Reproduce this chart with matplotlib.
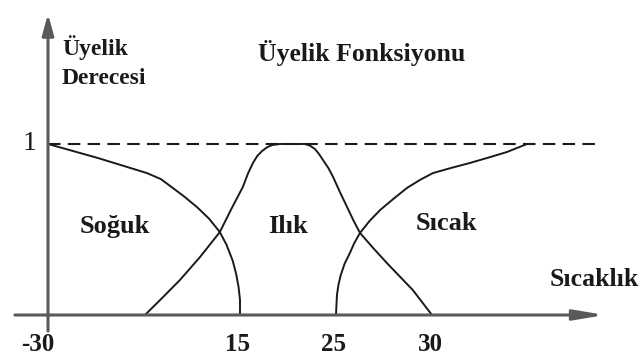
import numpy as np
import matplotlib
matplotlib.use("Agg")
import matplotlib.pyplot as plt

# membership curves, x in diagram units (tick -30 -> 0, 15 -> 4, 25 -> 6, 30 -> 8)
soguk_x = [0.0, 1.04, 2.06, 2.35, 2.60, 2.85, 3.10, 3.35, 3.58, 3.72, 3.85, 3.92, 3.97, 4.0, 4.0]
soguk_y = [1.0, 0.918, 0.830, 0.795, 0.743, 0.690, 0.632, 0.565, 0.485, 0.410, 0.316, 0.240, 0.164, 0.088, 0.0]

ilik_x = [2.02, 2.38, 2.75, 3.17, 3.58, 3.82, 4.06, 4.17, 4.27, 4.36, 4.46, 4.56, 4.67, 4.83,
          5.35, 5.46, 5.56, 5.65, 5.73, 5.84, 5.94, 6.08, 6.23, 6.36, 6.50, 6.78, 7.06, 7.33, 7.60, 8.0]
ilik_y = [0.0, 0.100, 0.205, 0.340, 0.485, 0.620, 0.749, 0.830, 0.889, 0.930, 0.959, 0.980, 0.994, 1.0,
          1.0, 0.990, 0.971, 0.940, 0.906, 0.860, 0.807, 0.720, 0.632, 0.555, 0.480, 0.390, 0.304, 0.225, 0.146, 0.0]

sicak_x = [6.0, 6.01, 6.02, 6.05, 6.10, 6.18, 6.29, 6.38, 6.50, 6.70, 6.92, 7.20, 7.48, 7.75, 8.02, 8.40, 8.79, 9.17, 9.56, 9.98]
sicak_y = [0.0, 0.060, 0.117, 0.175, 0.234, 0.300, 0.363, 0.420, 0.480, 0.550, 0.614, 0.680, 0.743, 0.790, 0.830, 0.860, 0.889, 0.920, 0.953, 1.0]

tick_pos = [0, 4, 6, 8]
tick_labels = ['-30', '15', '25', '30']

fig = plt.figure(figsize=(6.44, 3.61), dpi=100)
ax = fig.add_axes([0, 0, 1, 1])
ax.set_xlim(-1.0, 12.417)
ax.set_ylim(-0.269, 1.842)
ax.axis('off')

axis_col = '#5a5a5a'
ink = '#1a1a1a'
serif = 'Liberation Serif'

# axes with arrows
ax.annotate('', xy=(0, 1.76), xytext=(0, -0.094),
            arrowprops=dict(arrowstyle='-|>,head_length=0.9,head_width=0.25',
                            lw=2.2, color=axis_col, shrinkA=0, shrinkB=0,
                            mutation_scale=14))
ax.annotate('', xy=(11.6, 0), xytext=(-0.69, 0),
            arrowprops=dict(arrowstyle='-|>,head_length=1.3,head_width=0.22',
                            lw=2.2, color=axis_col, shrinkA=0, shrinkB=0,
                            mutation_scale=14))

# membership = 1 guide
ax.plot([0, 11.5], [1, 1], color=ink, lw=1.5, dashes=(6, 3.5))

for xs, ys in [(soguk_x, soguk_y), (ilik_x, ilik_y), (sicak_x, sicak_y)]:
    ax.plot(xs, ys, color=ink, lw=1.4, solid_joinstyle='round', solid_capstyle='round')

bold = dict(family=serif, fontweight='bold', color=ink)
ax.text(0.29, 1.52, 'Üyelik', fontsize=17, va='baseline', **bold)
ax.text(0.29, 1.35, 'Derecesi', fontsize=17, va='baseline', **bold)
ax.text(4.375, 1.485, 'Üyelik Fonksiyonu', fontsize=18.5, va='baseline', **bold)
ax.text(0.667, 0.48, 'Soğuk', fontsize=19, va='baseline', **bold)
ax.text(4.99, 0.48, 'Ilık', fontsize=19, ha='center', va='baseline', **bold)
ax.text(7.65, 0.497, 'Sıcak', fontsize=19, va='baseline', **bold)
ax.text(10.46, 0.17, 'Sıcaklık', fontsize=18.5, va='baseline', **bold)

ax.text(-0.375, 1.0, '1', family=serif, fontsize=20, color=ink, ha='center', va='center')

nudge = [-0.21, -0.06, -0.06, -0.04]
for p, lab, dx in zip(tick_pos, tick_labels, nudge):
    ax.text(p + dx, -0.175, lab, fontsize=18, ha='center', va='center', **bold)

fig.savefig('out.png', dpi=100)
